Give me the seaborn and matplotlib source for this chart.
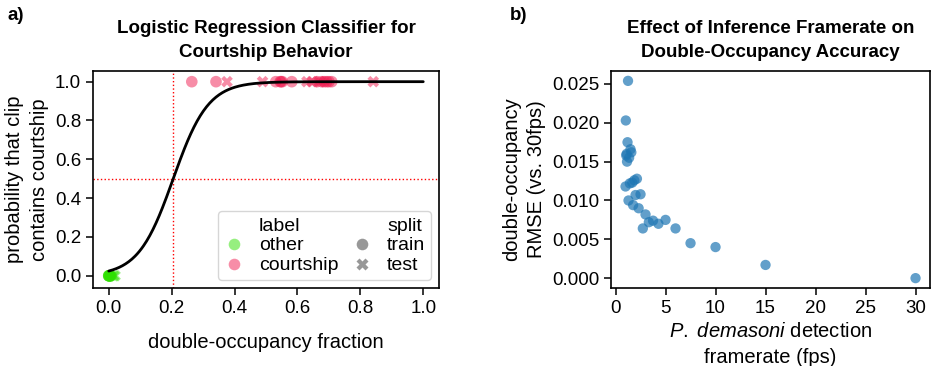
"""
Courtship classifier + framerate effect, two-panel figure
"""

import numpy as np
import pandas as pd
import matplotlib.pyplot as plt
import seaborn as sns

# ── Panel a data ─────────────────────────────────────────────────────────────
other_train_x = [0.0, 0.0, 0.002, 0.004, 0.006, 0.0, 0.008, 0.003]
other_test_x = [0.015, 0.02]
courtship_train_x = [0.264, 0.341, 0.531, 0.545, 0.552, 0.582, 0.548,
                     0.662, 0.677, 0.693, 0.709, 0.70, 0.685]
courtship_test_x = [0.376, 0.489, 0.63, 0.646, 0.67, 0.841]

# fitted logistic regression parameters
LR_COEF = 18.0
LR_INTERCEPT = -3.69
THRESHOLD_X = 0.205

# ── Panel b data ─────────────────────────────────────────────────────────────
fps = [30.0, 15.0, 10.0, 7.5, 6.0, 5.0, 4.29, 3.75, 3.33, 3.0,
       2.73, 2.5, 2.31, 2.14, 2.0, 1.875, 1.76, 1.67, 1.58, 1.5,
       1.43, 1.36, 1.30, 1.25, 1.2, 1.15, 1.11, 1.07, 1.03, 1.0]
rmse = [0.0, 0.0017, 0.0040, 0.0045, 0.0064, 0.0075, 0.0070, 0.0074, 0.0072, 0.0082,
        0.0064, 0.0108, 0.0090, 0.0128, 0.0107, 0.0126, 0.0094, 0.0123, 0.0162, 0.0166,
        0.0122, 0.0155, 0.0100, 0.0254, 0.0175, 0.0150, 0.0160, 0.0158, 0.0203, 0.0118]

OTHER_COLOR = "#2ee000"
COURT_COLOR = "#f01c50"
BLUE = "#1f77b4"

sns.set_theme(style="ticks")
plt.rcParams.update({
    "font.family": ["Liberation Sans", "DejaVu Sans"],
    "mathtext.fontset": "custom",
    "mathtext.it": "Liberation Sans:italic",
    "mathtext.rm": "Liberation Sans",
    "text.color": "black",
    "axes.labelcolor": "black",
    "axes.edgecolor": "black",
    "axes.linewidth": 1.2,
    "xtick.color": "black",
    "ytick.color": "black",
    "xtick.major.width": 1.1,
    "ytick.major.width": 1.1,
    "xtick.major.size": 5,
    "ytick.major.size": 5,
})

fig = plt.figure(figsize=(9.35, 3.66), dpi=100)
ax1 = fig.add_axes([0.0995, 0.2131, 0.3700, 0.5929])
ax2 = fig.add_axes([0.6535, 0.2131, 0.3412, 0.5929])

LABEL_SIZE = 14.5
TICK_SIZE = 13.5
TITLE_SIZE = 13.5

# ── Panel a ──────────────────────────────────────────────────────────────────
df = pd.DataFrame({
    "x": other_train_x + other_test_x + courtship_train_x + courtship_test_x,
    "label": (["other"] * (len(other_train_x) + len(other_test_x))
              + ["courtship"] * (len(courtship_train_x) + len(courtship_test_x))),
    "split": (["train"] * len(other_train_x) + ["test"] * len(other_test_x)
              + ["train"] * len(courtship_train_x) + ["test"] * len(courtship_test_x)),
})
df["y"] = np.where(df["label"] == "courtship", 1.0, 0.0)

xs = np.linspace(0, 1, 300)
ax1.axhline(0.5, color="red", ls=":", lw=1)
ax1.axvline(THRESHOLD_X, color="red", ls=":", lw=1)
sns.lineplot(x=xs, y=1 / (1 + np.exp(-(LR_COEF * xs + LR_INTERCEPT))),
             color="black", lw=2, ax=ax1)
sns.scatterplot(data=df, x="x", y="y", hue="label", style="split",
                hue_order=["other", "courtship"], style_order=["train", "test"],
                palette={"other": OTHER_COLOR, "courtship": COURT_COLOR},
                markers={"train": "o", "test": "X"}, s=70, alpha=0.5,
                edgecolor="none", ax=ax1)
ax1.set_xlim(-0.05, 1.05)
ax1.set_ylim(-0.063, 1.055)
ax1.set_xticks([0, 0.2, 0.4, 0.6, 0.8, 1.0])
ax1.set_yticks([0, 0.2, 0.4, 0.6, 0.8, 1.0])
ax1.tick_params(labelsize=TICK_SIZE)
ax1.set_xlabel("double-occupancy fraction", fontsize=LABEL_SIZE, labelpad=12)
ax1.set_ylabel("probability that clip\ncontains courtship", fontsize=LABEL_SIZE,
               linespacing=1.45)
ax1.set_title("Logistic Regression Classifier for\nCourtship Behavior",
              fontsize=TITLE_SIZE, fontweight="bold", pad=10, linespacing=1.55)
ax1.legend(ncol=2, loc="lower right", fontsize=14, handlelength=1.0,
           handletextpad=0.8, columnspacing=0.7, labelspacing=0.12,
           borderpad=0.3, borderaxespad=0.4, frameon=True)

# ── Panel b ──────────────────────────────────────────────────────────────────
sns.scatterplot(x=fps, y=rmse, color=BLUE, s=55, alpha=0.7,
                edgecolor="none", ax=ax2)
ax2.set_xticks([0, 5, 10, 15, 20, 25, 30])
ax2.set_yticks([0, 0.005, 0.010, 0.015, 0.020, 0.025])
ax2.set_yticklabels(["0.000", "0.005", "0.010", "0.015", "0.020", "0.025"])
ax2.tick_params(labelsize=TICK_SIZE)
ax2.set_xlabel("$\\it{P.}$ $\\it{demasoni}$ detection\nframerate (fps)",
               fontsize=LABEL_SIZE, linespacing=1.45)
ax2.set_ylabel("double-occupancy\nRMSE (vs. 30fps)", fontsize=LABEL_SIZE,
               linespacing=1.45)
ax2.set_title("Effect of Inference Framerate on\nDouble-Occupancy Accuracy",
              fontsize=TITLE_SIZE, fontweight="bold", pad=10, linespacing=1.55)

fig.text(0.008, 0.945, "a)", fontsize=TITLE_SIZE, fontweight="bold")
fig.text(0.545, 0.945, "b)", fontsize=TITLE_SIZE, fontweight="bold")

fig.savefig("out.png", dpi=100)
